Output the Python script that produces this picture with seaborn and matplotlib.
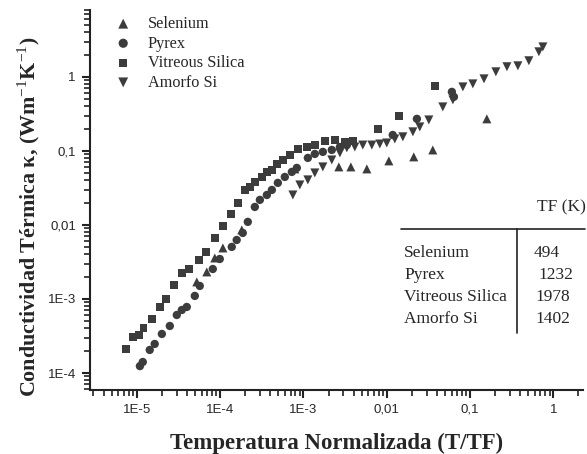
import numpy as np
import pandas as pd
import matplotlib
matplotlib.use("Agg")
import matplotlib.pyplot as plt
import seaborn as sns
from matplotlib.lines import Line2D
from matplotlib.ticker import LogLocator, NullFormatter

# datos (T/TF, kappa)
selenium_x = [5.25e-5, 6.92e-5, 8.63e-5, 1.08e-4, 1.82e-4, 7.88e-4, 2.66e-3, 3.71e-3,
              5.77e-3, 1.06e-2, 2.11e-2, 3.57e-2, 0.159]
selenium_y = [1.70e-3, 2.32e-3, 3.58e-3, 4.89e-3, 8.56e-3, 5.71e-2, 6.08e-2, 6.08e-2,
              5.71e-2, 7.33e-2, 8.30e-2, 0.103, 0.271]

pyrex_x = [1.09e-5, 1.18e-5, 1.43e-5, 1.64e-5, 2.0e-5, 2.49e-5, 3.02e-5, 3.47e-5, 3.98e-5,
           4.97e-5, 5.70e-5, 8.17e-5, 9.91e-5, 1.38e-4, 1.58e-4, 1.87e-4, 2.15e-4, 2.61e-4,
           3.0e-4, 3.64e-4, 4.18e-4, 4.93e-4, 5.98e-4, 7.26e-4, 8.33e-4, 1.13e-3, 1.37e-3,
           1.71e-3, 2.19e-3, 2.74e-3, 3.32e-3, 1.18e-2, 2.30e-2, 6.05e-2, 6.40e-2]
pyrex_y = [1.24e-4, 1.41e-4, 2.05e-4, 2.47e-4, 3.37e-4, 4.32e-4, 6.08e-4, 7.10e-4, 7.80e-4,
           1.10e-3, 1.50e-3, 2.54e-3, 3.47e-3, 5.05e-3, 6.26e-3, 7.80e-3, 1.10e-2, 1.75e-2,
           2.18e-2, 2.54e-2, 2.97e-2, 3.70e-2, 4.45e-2, 5.20e-2, 5.89e-2, 8.04e-2, 9.1e-2,
           9.7e-2, 0.103, 0.113, 0.120, 0.164, 0.271, 0.627, 0.537]

silica_x = [7.4e-6, 8.95e-6, 1.06e-5, 1.21e-5, 1.51e-5, 1.89e-5, 2.23e-5, 2.78e-5, 3.47e-5,
            4.21e-5, 5.55e-5, 6.73e-5, 8.63e-5, 1.08e-4, 1.34e-4, 1.63e-4, 1.98e-4, 2.27e-4,
            2.61e-4, 3.17e-4, 3.64e-4, 4.18e-4, 4.80e-4, 5.66e-4, 6.87e-4, 8.57e-4, 1.10e-3,
            1.37e-3, 1.81e-3, 2.38e-3, 3.14e-3, 3.92e-3, 7.82e-3, 1.40e-2, 3.78e-2]
silica_y = [2.11e-4, 3.06e-4, 3.27e-4, 4.06e-4, 5.37e-4, 7.80e-4, 1.0e-3, 1.55e-3, 2.25e-3,
            2.54e-3, 3.36e-3, 4.31e-3, 6.67e-3, 9.69e-3, 1.41e-2, 1.98e-2, 2.97e-2, 3.26e-2,
            3.81e-2, 4.45e-2, 5.20e-2, 5.54e-2, 6.67e-2, 7.55e-2, 8.83e-2, 0.106, 0.113,
            0.120, 0.136, 0.141, 0.132, 0.136, 0.198, 0.297, 0.755]

amorfo_x = [7.47e-4, 9.06e-4, 1.13e-3, 1.37e-3, 1.71e-3, 2.19e-3, 2.74e-3, 3.32e-3, 4.14e-3,
            5.16e-3, 6.62e-3, 8.26e-3, 1.0e-2, 1.25e-2, 1.56e-2, 2.06e-2, 2.49e-2, 3.20e-2,
            4.71e-2, 6.22e-2, 8.20e-2, 0.108, 0.147, 0.204, 0.277, 0.375, 0.508, 0.670, 0.748]
amorfo_y = [2.54e-2, 3.47e-2, 4.06e-2, 5.04e-2, 6.08e-2, 7.55e-2, 9.4e-2, 0.110, 0.113,
            0.120, 0.120, 0.124, 0.128, 0.145, 0.155, 0.181, 0.211, 0.262, 0.393, 0.489,
            0.732, 0.804, 0.94, 1.17, 1.37, 1.41, 1.65, 2.18, 2.54]

materiales = ["Selenium", "Pyrex", "Vitreous Silica", "Amorfo Si"]
tf_valores = ["494", "1232", "1978", "1402"]

x_ticks = [1e-5, 1e-4, 1e-3, 1e-2, 1e-1, 1]
x_labels = ["1E-5", "1E-4", "1E-3", "0,01", "0,1", "1"]
y_ticks = [1e-4, 1e-3, 1e-2, 1e-1, 1]
y_labels = ["1E-4", "1E-3", "0,01", "0,1", "1"]

sns.set_style("ticks")
plt.rcParams['font.family'] = ['Liberation Sans', 'DejaVu Sans']
plt.rcParams['mathtext.fontset'] = 'custom'
plt.rcParams['mathtext.rm'] = 'Liberation Serif'
plt.rcParams['mathtext.bf'] = 'Liberation Serif:bold'

serif = ['Liberation Serif', 'DejaVu Serif']
color = '#3c3c3c'

fig = plt.figure(figsize=(5.87, 4.54), dpi=100)
ax = fig.add_axes([0.153, 0.141, 0.84, 0.837])

series = [(selenium_x, selenium_y, '^', 42), (pyrex_x, pyrex_y, 'o', 36),
          (silica_x, silica_y, 's', 30), (amorfo_x, amorfo_y, 'v', 42)]
for (xs, ys, mk, sz), nombre in zip(series, materiales):
    df = pd.DataFrame({'x': xs, 'y': ys})
    sns.scatterplot(data=df, x='x', y='y', marker=mk, s=sz, color=color,
                    edgecolor='none', label=nombre, ax=ax)

ax.set_xscale('log')
ax.set_yscale('log')
ax.set_xlim(2.73e-6, 2.26)
ax.set_ylim(5.9e-5, 8.0)
ax.set_xticks(x_ticks, x_labels)
ax.set_yticks(y_ticks, y_labels)
ax.xaxis.set_minor_locator(LogLocator(base=10, subs=np.arange(2, 10), numticks=20))
ax.yaxis.set_minor_locator(LogLocator(base=10, subs=np.arange(2, 10), numticks=20))
ax.xaxis.set_minor_formatter(NullFormatter())
ax.yaxis.set_minor_formatter(NullFormatter())
ax.tick_params(which='major', length=6, width=1.5, labelsize=9.5, color='#222222', pad=4)
ax.tick_params(which='minor', length=4, width=1.2, color='#222222')
for s in ['left', 'bottom']:
    ax.spines[s].set_linewidth(1.5)
    ax.spines[s].set_color('#222222')
sns.despine(ax=ax)

ax.set_xlabel('Temperatura Normalizada (T/TF)', fontfamily=serif, fontweight='bold',
              fontsize=16.5, labelpad=12)
ax.set_ylabel(r'Conductividad Térmica κ, (Wm$^{-1}$K$^{-1}$)',
              fontfamily=serif, fontweight='bold', fontsize=15.8)
ax.yaxis.set_label_coords(-0.096, 0.455)

leg = ax.legend(loc='upper left', bbox_to_anchor=(0.015, 1.01), frameon=False,
                prop={'family': serif, 'size': 11.7}, handletextpad=0.5,
                labelspacing=0.22, borderaxespad=0.2, markerscale=1.1)

# tabla de TF
fig.text(537 / 587, 1 - 207 / 454, 'TF (K)', fontfamily=serif, fontsize=12.5, va='center')
fig.add_artist(Line2D([401 / 587, 585 / 587], [1 - 229 / 454, 1 - 229 / 454],
                      color='#222222', lw=1.2))
fig.add_artist(Line2D([517 / 587, 517 / 587], [1 - 229 / 454, 1 - 333 / 454],
                      color='#222222', lw=1.2))
filas_y = [253, 275, 297, 319]
tf_x = [534, 538, 535, 535]
for nombre, tf, fy, fx in zip(materiales, tf_valores, filas_y, tf_x):
    fig.text(404 / 587, 1 - fy / 454, nombre, fontfamily=serif, fontsize=12.5, va='center')
    fig.text(fx / 587, 1 - fy / 454, tf, fontfamily=serif, fontsize=12.5, va='center')

fig.savefig('out.png', dpi=100)
